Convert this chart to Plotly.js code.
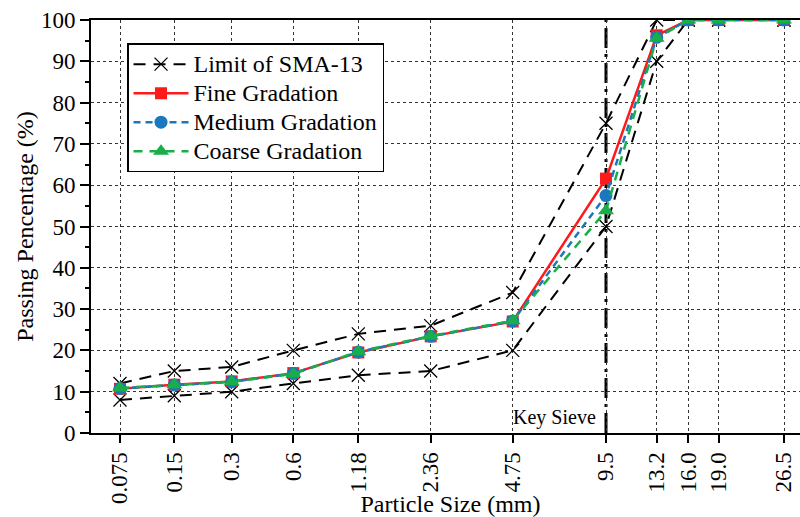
<!DOCTYPE html>
<html>
<head>
<meta charset="utf-8">
<script src="https://cdn.plot.ly/plotly-3.0.1.min.js"></script>
<style>html,body{margin:0;padding:0;background:#fff;overflow:hidden;}#chart{width:810px;height:517px;}</style>
</head>
<body>
<div id="chart"></div>
<script>
// Sieve sizes (mm) and their positions on the chart's custom gradation scale
const sieveLabels = ["0.075","0.15","0.3","0.6","1.18","2.36","4.75","9.5","13.2","16.0","19.0","26.5"];
const sievePos    = [120, 174.3, 231.7, 293.3, 358.3, 430.7, 512.7, 606, 656.7, 688.3, 718.7, 784];

const limitUpper = [12, 15, 16, 20, 24, 26, 34, 75, 100, 100, 100, 100];
const limitLower = [8, 9, 10, 12, 14, 15, 20, 50, 90, 100, 100, 100];
const fineGrad   = [10.7, 11.7, 12.5, 14.5, 19.5, 23.4, 27.0, 61.6, 96.3, 100, 100, 100];
const mediumGrad = [10.8, 11.6, 12.4, 14.4, 19.6, 23.4, 27.1, 57.5, 95.8, 100, 100, 100];
const coarseGrad = [10.9, 11.7, 12.4, 14.3, 19.7, 23.5, 27.2, 53.8, 95.6, 100, 100, 100];

const seriesNames = ["Limit of SMA-13", "Fine Gradation", "Medium Gradation", "Coarse Gradation"];

const keySieveIndex = 7;

const FONT = "Liberation Serif, Times New Roman, serif";
const big = s => '<span style="font-size:24px">' + s + '</span>';

const traces = [
  {x: sievePos, y: limitUpper, name: big(seriesNames[0]), legendgroup: "lim", mode: "lines+markers",
   line: {color: "#000", width: 2, dash: "12px,8px"},
   marker: {symbol: "x-thin-open", size: 13, line: {color: "#000", width: 1.3}}},
  {x: sievePos, y: limitLower, name: big(seriesNames[0]), legendgroup: "lim", showlegend: false, mode: "lines+markers",
   line: {color: "#000", width: 2, dash: "12px,8px"},
   marker: {symbol: "x-thin-open", size: 13, line: {color: "#000", width: 1.3}}},
  {x: sievePos, y: fineGrad, name: big(seriesNames[1]), mode: "lines+markers",
   line: {color: "#ff1a1a", width: 2.5},
   marker: {symbol: "square", size: 12, color: "#ff1a1a"}},
  {x: sievePos, y: mediumGrad, name: big(seriesNames[2]), mode: "lines+markers",
   line: {color: "#1a78bf", width: 2.5, dash: "7px,5px"},
   marker: {symbol: "circle", size: 13, color: "#1a78bf"}},
  {x: sievePos, y: coarseGrad, name: big(seriesNames[3]), mode: "lines+markers",
   line: {color: "#1aae4a", width: 2.5, dash: "9px,7px"},
   marker: {symbol: "triangle-up", size: 14, color: "#1aae4a"}}
];

const layout = {
  width: 810, height: 517,
  margin: {l: 91, r: 0, t: 20, b: 84},
  paper_bgcolor: "#fff", plot_bgcolor: "#fff",
  font: {family: FONT, size: 23, color: "#000"},
  showlegend: true,
  legend: {x: 0.0501, y: 0.944, xanchor: "left", yanchor: "top",
           bgcolor: "#fff", bordercolor: "#000", borderwidth: 1.5,
           font: {family: FONT, size: 20, color: "#000"},
           itemwidth: 55, tracegroupgap: 0},
  xaxis: {
    range: [91, 810], tickmode: "array", tickvals: sievePos, ticktext: sieveLabels,
    tickangle: -90, ticks: "outside", ticklen: 8, tickwidth: 2, tickcolor: "#000",
    showline: true, linecolor: "#000", linewidth: 2, mirror: true,
    showgrid: true, gridcolor: "#333", gridwidth: 1, griddash: "dot",
    zeroline: false, tickfont: {family: FONT, size: 23},
    title: {text: "Particle Size (mm)", font: {family: FONT, size: 24}, standoff: 2}
  },
  yaxis: {
    range: [0, 100], tick0: 0, dtick: 10, ticks: "outside", ticklen: 9, tickwidth: 2, tickcolor: "#000",
    minor: {dtick: 5, ticks: "outside", ticklen: 4, tickwidth: 2, tickcolor: "#000", showgrid: false},
    showline: true, linecolor: "#000", linewidth: 2, mirror: false,
    showgrid: true, gridcolor: "#333", gridwidth: 1, griddash: "dot",
    zeroline: false, tickfont: {family: FONT, size: 23},
    title: {text: "Passing Pencentage (%)", font: {family: FONT, size: 24}, standoff: 1}
  },
  shapes: [
    {type: "line", xref: "x", yref: "y", x0: sievePos[keySieveIndex], x1: sievePos[keySieveIndex], y0: 0, y1: 100,
     line: {color: "#000", width: 3, dash: "20px,6px,3px,6px"}, layer: "below"}
  ],
  annotations: [
    {xref: "x", yref: "y", x: sievePos[keySieveIndex], y: 3.8, text: "Key Sieve", showarrow: false,
     xanchor: "right", yanchor: "middle", xshift: -8, font: {family: FONT, size: 20, color: "#000"}}
  ]
};

Plotly.newPlot("chart", traces, layout, {displayModeBar: false, staticPlot: true});
</script>
</body>
</html>
